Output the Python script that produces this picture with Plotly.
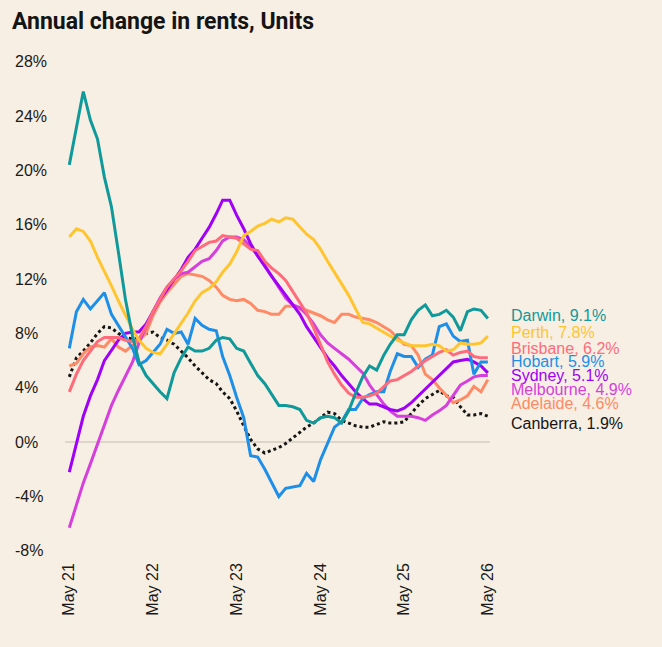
import pandas as pd
import plotly.graph_objects as go

months = pd.date_range("2021-05-01", periods=61, freq="MS")

darwin = [20.4, 23.2, 25.8, 23.7, 22.3, 19.5, 17.3, 14.0, 10.5, 7.8,
          5.9, 4.9, 4.3, 3.7, 3.2, 5.1, 6.2, 7.0, 6.7, 6.7,
          6.9, 7.5, 7.7, 7.6, 6.9, 6.7, 5.8, 4.9, 4.3, 3.5,
          2.7, 2.7, 2.6, 2.4, 1.6, 1.4, 1.8, 1.9, 1.8, 1.4,
          2.3, 3.6, 4.8, 5.6, 5.3, 6.4, 7.2, 7.9, 7.9, 9.0,
          9.7, 10.1, 9.3, 9.4, 9.7, 9.2, 8.2, 9.6, 9.8, 9.7, 9.1]
perth = [15.1, 15.7, 15.5, 14.8, 13.6, 12.6, 11.5, 10.4, 9.3, 8.3,
         7.5, 6.9, 6.6, 6.5, 7.2, 8.0, 8.8, 9.5, 10.4, 11.0,
         11.3, 11.8, 12.5, 13.1, 14.0, 15.2, 15.5, 15.9, 16.1, 16.4,
         16.2, 16.5, 16.4, 15.8, 15.3, 14.9, 14.2, 13.3, 12.5, 11.7,
         10.8, 9.8, 8.8, 8.7, 8.4, 8.1, 7.8, 7.5, 7.3, 7.1,
         7.1, 7.1, 7.2, 7.1, 6.7, 6.8, 7.3, 7.2, 7.2, 7.3, 7.8]
brisbane = [3.7, 5.0, 6.0, 6.7, 7.4, 7.7, 7.7, 7.7, 7.5, 7.4,
            7.6, 8.5, 9.6, 10.5, 11.4, 12.0, 12.6, 13.3, 14.1, 14.4,
            14.7, 14.8, 15.2, 15.1, 15.0, 14.6, 14.2, 14.1, 13.3, 12.8,
            12.4, 11.9, 11.1, 10.3, 9.5, 8.4, 7.2, 5.9, 5.0, 4.2,
            3.6, 3.3, 3.3, 3.4, 3.6, 4.1, 4.5, 4.6, 4.9, 5.2,
            5.6, 6.0, 6.3, 6.6, 6.8, 6.4, 6.6, 6.7, 6.3, 6.2, 6.2]
hobart = [6.9, 9.6, 10.5, 9.8, 10.4, 11.0, 9.4, 8.6, 7.7, 6.9,
          5.7, 6.0, 6.6, 7.2, 8.3, 8.0, 8.1, 7.2, 9.1, 8.6,
          8.3, 8.2, 6.3, 4.9, 3.3, 1.8, -1.0, -1.1, -2.0, -3.0,
          -4.0, -3.4, -3.3, -3.2, -2.3, -2.9, -1.3, -0.1, 1.1, 1.5,
          2.4, 2.4, 3.2, 3.5, 3.7, 3.7, 5.2, 6.5, 6.3, 6.3,
          5.5, 6.1, 6.4, 8.5, 8.7, 7.8, 7.4, 7.5, 5.0, 5.9, 5.9]
sydney = [-2.2, 0.0, 1.9, 3.4, 4.6, 6.0, 6.8, 7.5, 8.0, 8.1,
          8.1, 8.7, 9.6, 10.5, 11.2, 12.0, 12.7, 13.6, 14.2, 15.0,
          15.8, 16.8, 17.8, 17.8, 16.7, 15.7, 14.6, 13.7, 12.9, 12.2,
          11.5, 10.8, 10.1, 9.4, 8.5, 7.7, 7.0, 6.2, 5.6, 4.9,
          4.3, 3.7, 3.2, 2.8, 2.8, 2.6, 2.4, 2.3, 2.5, 2.9,
          3.4, 3.9, 4.4, 4.9, 5.4, 5.9, 6.0, 6.1, 5.9, 5.6, 5.1]
melbourne = [-6.3, -4.7, -3.0, -1.6, -0.1, 1.3, 2.7, 3.8, 4.9, 5.9,
             7.3, 8.5, 9.6, 10.6, 11.4, 12.0, 12.4, 12.5, 12.9, 13.3,
             13.5, 14.1, 14.8, 15.1, 15.1, 14.9, 14.4, 13.7, 13.0, 12.2,
             11.4, 10.6, 10.1, 9.9, 9.4, 8.7, 7.9, 7.3, 6.9, 6.5,
             6.1, 5.6, 5.1, 4.2, 3.5, 2.8, 2.3, 1.9, 1.9, 1.9,
             1.8, 1.6, 2.0, 2.3, 2.7, 3.4, 4.2, 4.5, 4.8, 4.9, 4.9]
adelaide = [5.6, 5.8, 6.5, 7.0, 7.1, 7.0, 7.6, 7.0, 6.7, 7.1,
            7.5, 8.0, 9.3, 10.3, 11.0, 11.6, 12.2, 12.4, 12.3, 12.2,
            11.9, 11.4, 10.8, 10.5, 10.4, 10.5, 10.2, 9.7, 9.6, 9.4,
            9.4, 10.0, 10.0, 9.8, 9.7, 9.5, 9.3, 9.0, 8.8, 9.4,
            9.4, 9.2, 9.1, 9.0, 8.8, 8.5, 8.2, 7.7, 7.2, 7.1,
            6.4, 5.0, 4.6, 4.0, 3.4, 2.9, 3.1, 3.4, 4.1, 3.7, 4.6]
canberra = [4.8, 6.2, 6.7, 7.3, 8.0, 8.5, 8.4, 8.0, 7.7, 7.6,
            7.6, 8.0, 8.1, 7.7, 7.5, 7.2, 6.7, 6.2, 5.6, 5.1,
            4.6, 4.3, 3.7, 3.2, 2.3, 1.2, 0.2, -0.5, -0.8, -0.6,
            -0.4, -0.1, 0.3, 0.7, 1.1, 1.4, 1.8, 2.2, 2.1, 1.6,
            1.4, 1.2, 1.1, 1.1, 1.3, 1.5, 1.4, 1.4, 1.5, 2.1,
            2.7, 3.2, 3.5, 3.8, 3.4, 3.3, 2.6, 2.0, 2.0, 2.1, 1.9]

names = ["Canberra", "Adelaide", "Melbourne", "Sydney", "Hobart", "Brisbane", "Perth", "Darwin"]
series = [canberra, adelaide, melbourne, sydney, hobart, brisbane, perth, darwin]
colors = {"Darwin": "#10999a", "Perth": "#ffc530", "Brisbane": "#ff6b7b", "Hobart": "#1e8fe8",
          "Sydney": "#a000f5", "Melbourne": "#d63fdc", "Adelaide": "#ff8a66", "Canberra": "#151515"}
label_names = ["Darwin", "Perth", "Brisbane", "Hobart", "Sydney", "Melbourne", "Adelaide", "Canberra"]
label_values = ["9.1%", "7.8%", "6.2%", "5.9%", "5.1%", "4.9%", "4.6%", "1.9%"]
label_y = [9.3, 8.1, 6.9, 5.95, 4.9, 3.85, 2.85, 1.4]

tick_years = ["May 21", "May 22", "May 23", "May 24", "May 25", "May 26"]
tick_dates = pd.date_range("2021-05-01", periods=6, freq="12MS")
y_ticks = [-8, -4, 0, 4, 8, 12, 16, 20, 24, 28]

BG = "#f7efe3"
fig = go.Figure()
for name, vals in zip(names, series):
    if name == "Canberra":
        line = dict(color=colors[name], width=3, dash="dot")
    else:
        line = dict(color=colors[name], width=3)
    fig.add_trace(go.Scatter(x=months, y=vals, mode="lines", name=name, line=line,
                             showlegend=False, hoverinfo="skip"))

for n, v, yy in zip(label_names, label_values, label_y):
    fig.add_annotation(x=months[-1], y=yy, xref="x", yref="y", text=f"{n}, {v}",
                       showarrow=False, xanchor="left", yanchor="middle", xshift=21,
                       font=dict(family="Liberation Sans, Arial", size=16, color=colors[n]))

fig.add_shape(type="line", xref="paper", yref="y", x0=0.109, x1=0.979, y0=0, y1=0,
              line=dict(color="#ddd5c9", width=2), layer="below")

fig.update_layout(
    width=662, height=647,
    paper_bgcolor=BG, plot_bgcolor=BG,
    margin=dict(l=12, r=162, t=48, b=88),
    title=dict(text="<b>Annual change in rents, Units</b>", xref="container", yref="container",
               x=12/662, xanchor="left", y=1-21/647, yanchor="middle",
               font=dict(family="Roboto, Liberation Sans", size=23, color="#141414")),
    xaxis=dict(range=["2020-08-24", "2026-06-23"], tickvals=list(tick_dates), ticktext=tick_years,
               tickangle=-90, showgrid=False, zeroline=False, showline=False, ticks="",
               tickfont=dict(family="Liberation Sans, Arial", size=16, color="#1a1a1a")),
    yaxis=dict(range=[-8.6, 29], tickvals=y_ticks, ticktext=[f"{t}%" for t in y_ticks],
               ticklabelposition="inside", ticklabeloverflow="allow",
               showgrid=False, zeroline=False, showline=False, ticks="",
               tickfont=dict(family="Liberation Sans, Arial", size=16, color="#1a1a1a")),
)

fig.write_html("out.html")
